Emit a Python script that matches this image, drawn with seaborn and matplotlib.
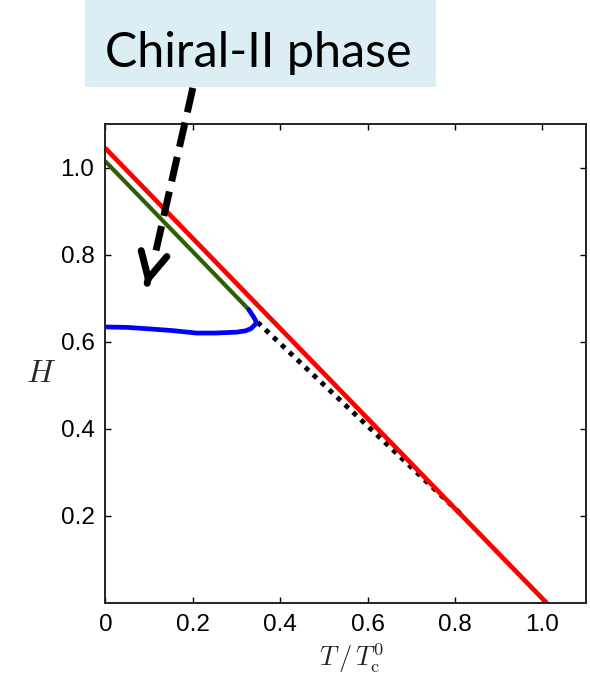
import matplotlib
matplotlib.use("Agg")
import matplotlib.pyplot as plt
import matplotlib.patches as mpatches
import seaborn as sns
import pandas as pd

# Phase boundary data: reduced temperature T/Tc0 versus field H
red_T = [0.0, 1.01]
red_H = [1.044, 0.0]

green_T = [0.0, 0.328]
green_H = [1.014, 0.674]

blue_T = [0.0, 0.05, 0.094, 0.15, 0.208, 0.25, 0.299, 0.320, 0.333, 0.345, 0.343, 0.339, 0.328]
blue_H = [0.634, 0.633, 0.630, 0.626, 0.620, 0.620, 0.622, 0.625, 0.630, 0.642, 0.650, 0.657, 0.674]

dotted_T = [0.348, 0.816]
dotted_H = [0.645, 0.202]

x_ticks = [0.0, 0.2, 0.4, 0.6, 0.8, 1.0]
x_tick_labels = ["0", "0.2", "0.4", "0.6", "0.8", "1.0"]
y_ticks = [0.2, 0.4, 0.6, 0.8, 1.0]
y_tick_labels = ["0.2", "0.4", "0.6", "0.8", "1.0"]

phase_label = "Chiral-II phase"

sns.set_theme(style="ticks")
plt.rcParams["font.family"] = ["Liberation Sans", "DejaVu Sans"]
plt.rcParams["mathtext.fontset"] = "cm"

fig = plt.figure(figsize=(5.9, 6.79), dpi=100)
ax = fig.add_axes([0.1788, 0.1119, 0.8144, 0.7054])

red = pd.DataFrame({"T": red_T, "H": red_H})
green = pd.DataFrame({"T": green_T, "H": green_H})
blue = pd.DataFrame({"T": blue_T, "H": blue_H})
dotted = pd.DataFrame({"T": dotted_T, "H": dotted_H})

sns.lineplot(data=dotted, x="T", y="H", ax=ax, color="black", linewidth=3.5,
             linestyle=(0, (1.0, 1.25)), sort=False, estimator=None)
sns.lineplot(data=red, x="T", y="H", ax=ax, color="#ff0000", linewidth=3.4,
             sort=False, estimator=None)
sns.lineplot(data=green, x="T", y="H", ax=ax, color="#2f5f05", linewidth=3.0,
             sort=False, estimator=None)
sns.lineplot(data=blue, x="T", y="H", ax=ax, color="#0000ff", linewidth=3.4,
             sort=False, estimator=None)

ax.set_xlim(0, 1.1)
ax.set_ylim(0, 1.1)
ax.set_xticks(x_ticks)
ax.set_xticklabels(x_tick_labels)
ax.set_yticks(y_ticks)
ax.set_yticklabels(y_tick_labels)
ax.tick_params(direction="in", length=4.5, width=1.0, top=True, right=True,
               labelsize=17.5, pad=8, colors="black")
for s in ax.spines.values():
    s.set_linewidth(1.4)
    s.set_color("#222222")

ax.set_xlabel(r"$T\,/\,T_{\mathrm{c}}^{0}$", fontsize=19, labelpad=4)
ax.xaxis.label.set_x(0.512)
ax.set_ylabel(r"$H$", fontsize=23, rotation=0, va="center", ha="center")
ax.yaxis.set_label_coords(-0.133, 0.478)
ax.grid(False)

# Callout box with its label
box = mpatches.Rectangle((85 / 590, 1 - 87 / 679), (436 - 85) / 590, 87 / 679,
                         transform=fig.transFigure, facecolor="#daeef3",
                         edgecolor="none", zorder=0)
fig.patches.append(box)
txt = fig.text(258.5 / 590, 1 - 66.7 / 679, phase_label, ha="center",
               va="baseline", fontsize=40, family=["Lato", "DejaVu Sans"],
               color="black")
fig.canvas.draw()
w = txt.get_window_extent().width
txt.set_fontsize(40 * 307 / w)

# Dashed pointer from the callout into the region
ax.annotate("", xy=(0.113, 0.798), xytext=(0.2, 1.183),
            arrowprops=dict(arrowstyle="-", lw=5, linestyle=(0, (3.6, 1.5)),
                            color="black", shrinkA=0, shrinkB=0,
                            capstyle="butt"),
            annotation_clip=False)
ax.annotate("", xy=(0.094, 0.728), xytext=(0.45, 1.95),
            textcoords="offset points",
            arrowprops=dict(arrowstyle="->,head_length=1.85,head_width=0.95",
                            lw=5, color="black", shrinkA=0, shrinkB=0,
                            mutation_scale=10),
            annotation_clip=False)

fig.savefig("out.png", dpi=100)
